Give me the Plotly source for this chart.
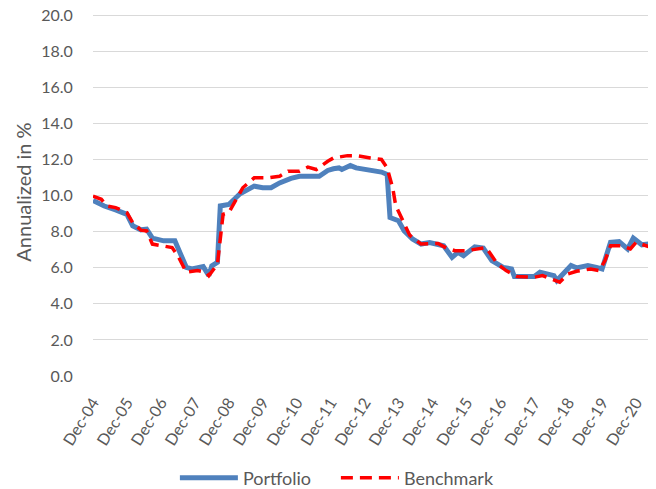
import plotly.graph_objects as go

# Portfolio series (annualized %)
portfolio_dates = [
    "2004-12", "2005-04", "2005-08", "2005-12", "2006-02", "2006-05", "2006-07", "2006-09",
    "2007-01", "2007-05", "2007-07", "2007-09", "2007-11", "2008-03", "2008-05", "2008-06",
    "2008-08", "2008-09", "2008-12", "2009-04", "2009-09", "2009-12", "2010-03", "2010-06",
    "2010-10", "2011-01", "2011-08", "2011-11", "2012-01", "2012-03", "2012-04", "2012-07",
    "2012-09", "2013-01", "2013-06", "2013-08", "2013-09", "2013-12", "2014-02", "2014-05",
    "2014-08", "2014-11", "2015-04", "2015-07", "2015-09", "2015-11", "2016-03", "2016-06",
    "2016-09", "2017-01", "2017-04", "2017-05", "2017-12", "2018-02", "2018-07", "2018-08",
    "2018-10", "2019-01", "2019-03", "2019-07", "2019-10", "2019-12", "2020-03", "2020-06",
    "2020-09", "2020-11", "2021-02", "2021-06",
]
portfolio_values = [
    9.73, 9.42, 9.20, 8.96, 8.32, 8.10, 8.14, 7.64,
    7.49, 7.49, 6.76, 6.02, 5.93, 6.06, 5.56, 6.10,
    6.30, 9.42, 9.50, 10.10, 10.52, 10.43, 10.43, 10.70,
    10.95, 11.07, 11.07, 11.39, 11.48, 11.53, 11.44, 11.66,
    11.53, 11.44, 11.30, 11.17, 8.78, 8.60, 8.04, 7.59,
    7.31, 7.40, 7.22, 6.57, 6.85, 6.67, 7.16, 7.09,
    6.39, 6.02, 5.93, 5.51, 5.51, 5.75, 5.56, 5.29,
    5.66, 6.12, 5.99, 6.12, 6.02, 5.93, 7.40, 7.45,
    7.04, 7.64, 7.27, 7.35,
]

# Benchmark series (annualized %)
benchmark_dates = [
    "2004-12", "2005-03", "2005-05", "2005-08", "2005-12", "2006-02", "2006-05", "2006-07",
    "2006-09", "2007-01", "2007-04", "2007-06", "2007-09", "2008-01", "2008-04", "2008-05",
    "2008-08", "2008-10", "2008-12", "2009-05", "2009-09", "2010-02", "2010-06", "2010-09",
    "2011-01", "2011-04", "2011-07", "2011-11", "2012-01", "2012-06", "2012-09", "2013-02",
    "2013-06", "2013-08", "2013-10", "2013-11", "2014-02", "2014-04", "2014-08", "2015-02",
    "2015-05", "2015-08", "2015-12", "2016-04", "2016-07", "2016-11", "2017-02", "2017-06",
    "2017-12", "2018-03", "2018-06", "2018-09", "2018-12", "2019-03", "2019-08", "2019-11",
    "2020-01", "2020-03", "2020-07", "2020-10", "2020-12", "2021-04", "2021-06",
]
benchmark_values = [
    9.97, 9.79, 9.42, 9.33, 9.05, 8.50, 8.08, 8.04,
    7.31, 7.22, 7.12, 6.67, 5.75, 5.84, 5.75, 5.56,
    6.20, 8.96, 9.05, 10.43, 10.98, 10.98, 11.07, 11.35,
    11.35, 11.57, 11.44, 11.90, 12.08, 12.21, 12.21, 12.08,
    12.00, 11.53, 10.40, 9.45, 8.50, 7.80, 7.31, 7.34,
    7.09, 6.94, 6.94, 7.07, 7.12, 6.20, 5.84, 5.51,
    5.47, 5.56, 5.38, 5.20, 5.66, 5.80, 5.93, 5.84,
    6.39, 7.22, 7.22, 7.04, 7.40, 7.22, 7.09,
]

# Axis ticks
tick_dates = [f"{y}-12" for y in range(2004, 2021)]
tick_labels = ["Dec-04", "Dec-05", "Dec-06", "Dec-07", "Dec-08", "Dec-09", "Dec-10", "Dec-11",
               "Dec-12", "Dec-13", "Dec-14", "Dec-15", "Dec-16", "Dec-17", "Dec-18", "Dec-19",
               "Dec-20"]
y_ticks = [0, 2, 4, 6, 8, 10, 12, 14, 16, 18, 20]

FONT = "Lato, 'Open Sans', sans-serif"
GRAY = "#595959"

fig = go.Figure()
fig.add_trace(go.Scatter(
    x=portfolio_dates, y=portfolio_values, name="Portfolio", mode="lines",
    line=dict(color="#4F81BD", width=5),
))
fig.add_trace(go.Scatter(
    x=benchmark_dates, y=benchmark_values, name="Benchmark", mode="lines",
    line=dict(color="#FF0000", width=3.5, dash="12px,7px"),
))

# The page body adds an 8px offset; the figure is sized to fit the 656x489 window.
fig.update_layout(
    width=648, height=481,
    margin=dict(l=85, r=3, t=0, b=113),
    paper_bgcolor="white", plot_bgcolor="white",
    font=dict(family=FONT, color=GRAY, size=16),
    showlegend=True,
    legend=dict(orientation="h", xref="container", yref="container",
                x=0.506, xanchor="center", y=0.023, yanchor="middle",
                font=dict(size=18, color=GRAY), itemwidth=58, entrywidth=88,
                traceorder="normal"),
)
fig.update_xaxes(
    range=["2004-12-01", "2021-06-01"],
    tickmode="array", tickvals=tick_dates, ticktext=tick_labels,
    tickangle=-58, tickfont=dict(size=16, color=GRAY),
    showgrid=False, zeroline=False, showline=False,
    ticks="outside", ticklen=10, tickcolor="rgba(0,0,0,0)",
    automargin=False,
)
fig.update_yaxes(
    range=[0, 20.39], tickmode="array", tickvals=y_ticks,
    ticktext=[f"{v:.1f}" for v in y_ticks],
    tickfont=dict(size=16, color=GRAY),
    ticklabeloverflow="allow",
    showgrid=True, gridcolor="#D9D9D9", gridwidth=1.3, zeroline=False, showline=False,
    ticks="outside", ticklen=16, tickcolor="rgba(0,0,0,0)",
    automargin=False,
    title=dict(text="Annualized in %", font=dict(size=20, color=GRAY), standoff=4),
)

fig.write_html("out.html")
